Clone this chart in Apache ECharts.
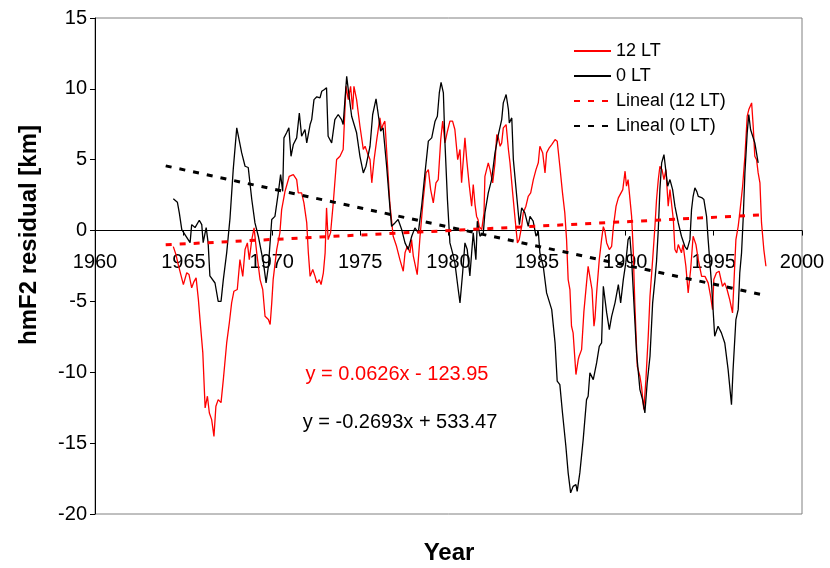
<!DOCTYPE html>
<html>
<head>
<meta charset="utf-8">
<script src="https://cdn.jsdelivr.net/npm/echarts@6/dist/echarts.min.js"></script>
<style>
  html, body { margin: 0; padding: 0; background: #ffffff; }
  #chart { width: 830px; height: 568px; }
</style>
</head>
<body>
<div id="chart"></div>
<script>
// hmF2 residuals (km) by decimal year, 12 LT and 0 LT
const seriesNames = ['12 LT', '0 LT', 'Lineal (12 LT)', 'Lineal (0 LT)'];

const lt12 = [
  [1964.43,-1.13],[1964.58,-1.69],[1964.71,-2.4],[1964.81,-2.28],[1965.00,-3.81],[1965.19,-2.98],
  [1965.32,-3.1],[1965.47,-4.04],[1965.60,-3.6],[1965.72,-3.34],[1965.85,-4.87],[1965.94,-6.28],
  [1966.10,-8.63],[1966.23,-12.51],[1966.36,-11.69],[1966.47,-12.87],[1966.60,-13.34],[1966.73,-14.52],
  [1966.84,-12.4],[1966.97,-11.93],[1967.13,-12.14],[1967.26,-10.52],[1967.45,-7.93],[1967.60,-6.51],
  [1967.73,-5.1],[1967.86,-4.28],[1968.05,-4.16],[1968.20,-2.05],[1968.36,-3.23],[1968.49,-1.34],
  [1968.62,-0.87],[1968.73,-2.05],[1968.87,-0.64],[1969.00,0.19],[1969.15,-1.57],[1969.34,-3.46],
  [1969.49,-4.16],[1969.62,-6.05],[1969.81,-6.28],[1969.91,-6.63],[1970.00,-5.1],[1970.08,-3.46],
  [1970.28,-1.34],[1970.46,-0.16],[1970.56,1.48],[1970.75,2.77],[1970.99,3.83],[1971.22,3.95],
  [1971.41,3.6],[1971.50,2.66],[1971.69,2.66],[1971.82,1.95],[1971.98,0.54],[1972.07,-1.57],
  [1972.17,-3.23],[1972.32,-2.75],[1972.45,-3.23],[1972.55,-3.69],[1972.69,-3.46],[1972.79,-3.81],
  [1972.92,-2.98],[1973.02,-1.57],[1973.10,1.6],[1973.19,-0.64],[1973.33,-0.14],[1973.48,1.95],
  [1973.67,5.01],[1973.86,5.24],[1974.04,5.72],[1974.20,10.18],[1974.33,9.24],[1974.46,10.18],
  [1974.58,8.54],[1974.65,10.18],[1974.80,9.24],[1974.99,7.36],[1975.18,5.72],[1975.28,5.95],
  [1975.41,5.48],[1975.56,5.01],[1975.66,3.37],[1975.79,5.01],[1975.94,6.42],[1976.12,7.95],
  [1976.21,7.13],[1976.30,7.48],[1976.40,7.72],[1976.53,5.01],[1976.68,1.95],[1976.87,-0.4],
  [1977.06,-1.11],[1977.25,-2.05],[1977.44,-2.87],[1977.54,-1.57],[1977.67,-1.11],[1977.82,-1.57],
  [1977.91,-0.64],[1978.01,-1.81],[1978.23,-3.11],[1978.39,-0.4],[1978.57,2.19],[1978.73,4.07],
  [1978.86,4.3],[1978.99,2.89],[1979.14,1.95],[1979.29,3.37],[1979.42,3.6],[1979.56,6.42],
  [1979.67,7.72],[1979.80,6.19],[1979.94,7.01],[1980.08,7.72],[1980.23,7.72],[1980.36,7.13],
  [1980.52,5.01],[1980.65,5.72],[1980.74,3.37],[1980.93,6.54],[1981.03,5.01],[1981.18,3.13],
  [1981.31,1.72],[1981.40,3.25],[1981.50,1.83],[1981.59,1.0],[1981.67,0.78],[1981.74,0.28],
  [1981.88,0.07],[1982.01,1.25],[1982.06,3.83],[1982.25,4.78],[1982.35,4.3],[1982.50,3.37],
  [1982.63,4.78],[1982.73,6.77],[1982.82,6.54],[1982.92,5.95],[1983.01,6.19],[1983.10,7.25],
  [1983.26,7.48],[1983.39,5.72],[1983.48,4.78],[1983.63,2.66],[1983.77,0.78],[1983.90,-0.87],
  [1984.00,-0.64],[1984.14,0.3],[1984.23,1.25],[1984.38,1.72],[1984.51,2.42],[1984.65,2.66],
  [1984.80,3.6],[1984.95,4.3],[1985.08,4.78],[1985.17,5.95],[1985.33,5.48],[1985.46,4.07],
  [1985.55,5.48],[1985.70,5.84],[1985.84,6.07],[1986.03,6.42],[1986.15,6.31],[1986.30,4.54],
  [1986.45,2.66],[1986.58,1.25],[1986.68,-0.64],[1986.77,-3.46],[1986.87,-4.16],[1986.96,-6.75],
  [1987.05,-7.22],[1987.21,-10.16],[1987.34,-9.1],[1987.39,-8.87],[1987.53,-8.4],[1987.66,-5.72],
  [1987.81,-3.69],[1987.90,-2.52],[1987.96,-2.6],[1988.12,-4.16],[1988.23,-6.75],[1988.29,-6.16],
  [1988.38,-4.4],[1988.53,-2.05],[1988.66,-0.64],[1988.76,0.28],[1988.85,-0.05],[1988.95,-0.87],
  [1989.10,-1.34],[1989.23,-1.11],[1989.33,0.3],[1989.48,1.72],[1989.61,2.31],[1989.70,2.19],
  [1989.86,2.89],[1989.99,4.19],[1990.07,3.13],[1990.16,3.6],[1990.26,2.31],[1990.36,1.0],
  [1990.45,-1.34],[1990.54,-5.1],[1990.68,-9.58],[1990.83,-10.28],[1990.92,-10.99],[1991.05,-12.63],
  [1991.17,-10.52],[1991.30,-7.46],[1991.40,-4.64],[1991.55,-2.05],[1991.68,0.3],[1991.77,2.19],
  [1991.87,3.6],[1991.96,4.54],[1992.08,4.3],[1992.19,3.6],[1992.30,4.3],[1992.43,1.72],
  [1992.53,2.89],[1992.72,0.78],[1992.81,-1.34],[1992.91,-1.57],[1993.00,-0.99],[1993.18,-1.57],
  [1993.27,-0.99],[1993.43,-2.52],[1993.56,-4.4],[1993.70,-2.75],[1993.84,-0.4],[1994.00,-0.99],
  [1994.13,-2.05],[1994.32,-3.23],[1994.51,-3.23],[1994.69,-3.69],[1994.83,-4.64],[1994.94,-5.58],
  [1995.01,-3.46],[1995.16,-2.98],[1995.31,-2.87],[1995.50,-3.93],[1995.63,-3.69],[1995.76,-4.16],
  [1995.91,-4.87],[1996.07,-5.81],[1996.14,-3.93],[1996.26,-0.64],[1996.39,0.3],[1996.48,1.25],
  [1996.64,3.13],[1996.77,5.24],[1996.90,8.07],[1996.99,8.54],[1997.15,9.01],[1997.24,7.36],
  [1997.33,5.24],[1997.43,5.01],[1997.52,4.07],[1997.62,3.37],[1997.71,0.54],[1997.84,-1.34],
  [1997.96,-2.52]
];

const lt0 = [
  [1964.43,2.24],[1964.66,2.0],[1964.77,1.25],[1964.91,0.07],[1965.09,-0.28],[1965.38,-0.85],
  [1965.47,0.42],[1965.66,0.21],[1965.90,0.73],[1966.04,0.42],[1966.12,-0.85],[1966.29,0.21],
  [1966.40,-0.85],[1966.50,-3.2],[1966.60,-3.3],[1966.79,-3.7],[1966.97,-5.0],[1967.13,-5.0],
  [1967.26,-3.46],[1967.45,-1.57],[1967.64,0.9],[1967.82,4.3],[1968.02,7.25],[1968.11,7.13],
  [1968.30,5.48],[1968.49,4.54],[1968.67,4.45],[1968.87,2.19],[1968.96,2.33],[1969.05,0.54],
  [1969.24,-0.4],[1969.53,-2.28],[1969.68,-3.69],[1969.81,-2.52],[1970.00,0.78],[1970.18,1.0],
  [1970.37,2.66],[1970.50,3.95],[1970.62,2.77],[1970.69,6.54],[1970.84,6.9],[1970.97,7.25],
  [1971.09,5.24],[1971.22,6.07],[1971.41,6.54],[1971.56,8.3],[1971.69,6.66],[1971.88,7.13],
  [1971.98,6.19],[1972.17,7.48],[1972.26,7.83],[1972.39,9.24],[1972.55,9.44],[1972.73,9.37],
  [1972.83,9.83],[1972.98,9.95],[1973.10,10.07],[1973.19,6.66],[1973.39,6.19],[1973.57,7.83],
  [1973.76,8.19],[1973.95,7.83],[1974.04,7.48],[1974.24,10.89],[1974.33,9.95],[1974.52,8.07],
  [1974.61,8.19],[1974.80,6.9],[1974.99,5.24],[1975.18,4.07],[1975.33,4.54],[1975.56,5.95],
  [1975.71,8.19],[1975.90,9.29],[1976.01,9.24],[1976.16,7.01],[1976.30,7.25],[1976.50,4.54],
  [1976.68,1.72],[1976.78,0.3],[1976.97,0.54],[1977.15,0.78],[1977.35,0.07],[1977.54,-0.87],
  [1977.72,-1.34],[1977.92,-0.4],[1978.10,0.19],[1978.29,-0.16],[1978.48,1.72],[1978.67,4.07],
  [1978.86,6.31],[1979.05,6.54],[1979.24,7.72],[1979.37,8.07],[1979.48,9.71],[1979.58,10.46],
  [1979.71,9.71],[1979.80,6.19],[1979.94,2.19],[1980.08,-0.87],[1980.23,-1.57],[1980.36,-2.28],
  [1980.55,-4.16],[1980.65,-5.1],[1980.80,-2.98],[1980.93,-0.87],[1981.06,-1.34],[1981.21,-3.2],
  [1981.31,-1.57],[1981.40,-0.16],[1981.55,-2.05],[1981.63,0.66],[1981.78,-0.4],[1981.97,-0.16],
  [1982.06,1.25],[1982.25,2.66],[1982.44,3.6],[1982.63,5.48],[1982.82,6.77],[1983.01,7.83],
  [1983.10,9.01],[1983.26,9.6],[1983.39,8.54],[1983.44,7.6],[1983.58,7.95],[1983.67,5.01],
  [1983.86,2.42],[1984.01,0.42],[1984.14,1.6],[1984.32,1.25],[1984.51,0.3],[1984.61,1.0],
  [1984.79,0.66],[1984.95,-0.4],[1985.08,-0.05],[1985.17,-1.57],[1985.36,-2.52],[1985.55,-4.4],
  [1985.84,-5.58],[1986.03,-7.93],[1986.15,-10.63],[1986.30,-10.87],[1986.45,-12.87],[1986.64,-15.22],
  [1986.77,-17.1],[1986.91,-18.51],[1987.05,-18.05],[1987.21,-17.93],[1987.28,-18.4],[1987.43,-17.1],
  [1987.62,-14.75],[1987.81,-11.93],[1987.90,-11.69],[1988.00,-10.04],[1988.19,-10.52],[1988.38,-9.34],
  [1988.53,-8.17],[1988.66,-7.93],[1988.76,-3.93],[1988.95,-5.81],[1989.10,-6.99],[1989.23,-6.05],
  [1989.42,-5.1],[1989.61,-3.81],[1989.74,-5.1],[1989.89,-3.46],[1990.03,-2.28],[1990.16,-0.64],
  [1990.26,-0.4],[1990.36,-2.05],[1990.49,-5.1],[1990.64,-8.63],[1990.83,-11.22],[1990.98,-11.93],
  [1991.11,-12.87],[1991.24,-10.75],[1991.40,-8.87],[1991.55,-5.1],[1991.68,-3.46],[1991.77,-2.17],
  [1991.87,0.07],[1991.96,2.89],[1992.06,4.78],[1992.19,5.36],[1992.29,5.22],[1992.40,3.13],
  [1992.53,3.6],[1992.68,2.89],[1992.81,1.72],[1993.00,0.54],[1993.18,-0.4],[1993.37,-1.11],
  [1993.50,-1.34],[1993.66,-0.64],[1993.75,1.48],[1993.84,2.42],[1993.94,3.01],[1994.05,2.75],
  [1994.13,2.42],[1994.32,2.33],[1994.45,2.19],[1994.60,1.0],[1994.69,-0.64],[1994.89,-3.93],
  [1995.06,-7.46],[1995.25,-6.75],[1995.44,-7.22],[1995.63,-7.93],[1995.82,-9.81],[1996.01,-12.28],
  [1996.10,-9.81],[1996.26,-6.28],[1996.39,-5.58],[1996.48,-2.98],[1996.58,-1.57],[1996.67,0.78],
  [1996.77,4.07],[1996.90,6.9],[1996.99,8.19],[1997.09,7.13],[1997.20,7.25],[1997.33,6.19],
  [1997.43,6.31],[1997.52,4.78]
];

// Linear fits: [slope, intercept], drawn over the years they cover
const fit12 = [0.0626, -123.95];
const fit0 = [-0.2693, 533.47];
const fitYears = [1964.0, 1997.9];
const fitLabels = ['y = 0.0626x - 123.95', 'y = -0.2693x + 533.47'];

const xRange = [1960, 2000, 5];
const yRange = [-20, 15, 5];

const FONT = '"Liberation Sans", Arial, sans-serif';
const RED = '#ff0000';
const BLACK = '#000000';

// plot rectangle
const GRID = { left: 95, right: 28, top: 18, bottom: 54 };
const CHART_H = 568;
const plotH = CHART_H - GRID.top - GRID.bottom;
// the year axis sits on the zero line, so shift it up from the bottom edge
const zeroShift = -plotH * (0 - yRange[0]) / (yRange[1] - yRange[0]);

function fitLine(coef) {
  return fitYears.map(x => [x, coef[0] * x + coef[1]]);
}

const chart = echarts.init(document.getElementById('chart'), null, { renderer: 'canvas' });

chart.setOption({
  animation: false,
  backgroundColor: '#ffffff',
  grid: {
    left: GRID.left, right: GRID.right, top: GRID.top, bottom: GRID.bottom,
    show: true, borderColor: '#808080', borderWidth: 1, backgroundColor: 'transparent'
  },
  xAxis: {
    type: 'value',
    min: xRange[0], max: xRange[1], interval: xRange[2],
    position: 'bottom',
    offset: zeroShift,
    axisLine: { onZero: false, lineStyle: { color: BLACK, width: 1 } },
    axisTick: { show: true, inside: false, length: 5, lineStyle: { color: BLACK } },
    axisLabel: {
      color: BLACK, fontSize: 20, fontFamily: FONT, margin: 22,
      formatter: v => String(v)
    },
    splitLine: { show: false }
  },
  yAxis: {
    type: 'value',
    min: yRange[0], max: yRange[1], interval: yRange[2],
    axisLine: { show: true, lineStyle: { color: BLACK, width: 1 } },
    axisTick: { show: true, inside: false, length: 5, lineStyle: { color: BLACK } },
    axisLabel: { color: BLACK, fontSize: 20, fontFamily: FONT, margin: 8 },
    splitLine: { show: false }
  },
  legend: {
    orient: 'vertical',
    left: 568, top: 37,
    itemWidth: 37, itemHeight: 14, itemGap: 7,
    itemStyle: { opacity: 0, borderWidth: 0 },
    textStyle: { color: BLACK, fontSize: 18, fontFamily: FONT },
    data: seriesNames
  },
  graphic: [
    {
      type: 'text', x: 29, y: 235, rotation: Math.PI / 2,
      style: {
        text: 'hmF2 residual [km]', fill: BLACK,
        font: 'bold 24px ' + FONT, textAlign: 'center', textVerticalAlign: 'middle'
      }
    },
    {
      type: 'text', x: 449, y: 553,
      style: {
        text: 'Year', fill: BLACK,
        font: 'bold 24px ' + FONT, textAlign: 'center', textVerticalAlign: 'middle'
      }
    },
    {
      type: 'text', x: 397, y: 374,
      style: {
        text: fitLabels[0], fill: RED,
        font: '20px ' + FONT, textAlign: 'center', textVerticalAlign: 'middle'
      }
    },
    {
      type: 'text', x: 400, y: 422,
      style: {
        text: fitLabels[1], fill: BLACK,
        font: '20px ' + FONT, textAlign: 'center', textVerticalAlign: 'middle'
      }
    }
  ],
  series: [
    {
      name: seriesNames[0], type: 'line', data: lt12,
      symbol: 'none', lineStyle: { color: RED, width: 1.3 }, itemStyle: { color: RED }, z: 2
    },
    {
      name: seriesNames[1], type: 'line', data: lt0,
      symbol: 'none', lineStyle: { color: BLACK, width: 1.3 }, itemStyle: { color: BLACK }, z: 3
    },
    {
      name: seriesNames[2], type: 'line', data: fitLine(fit12),
      symbol: 'none', lineStyle: { color: RED, width: 3, type: [6, 8] }, itemStyle: { color: RED }, z: 4
    },
    {
      name: seriesNames[3], type: 'line', data: fitLine(fit0),
      symbol: 'none', lineStyle: { color: BLACK, width: 3, type: [6, 8] }, itemStyle: { color: BLACK }, z: 4
    }
  ]
});
</script>
</body>
</html>
